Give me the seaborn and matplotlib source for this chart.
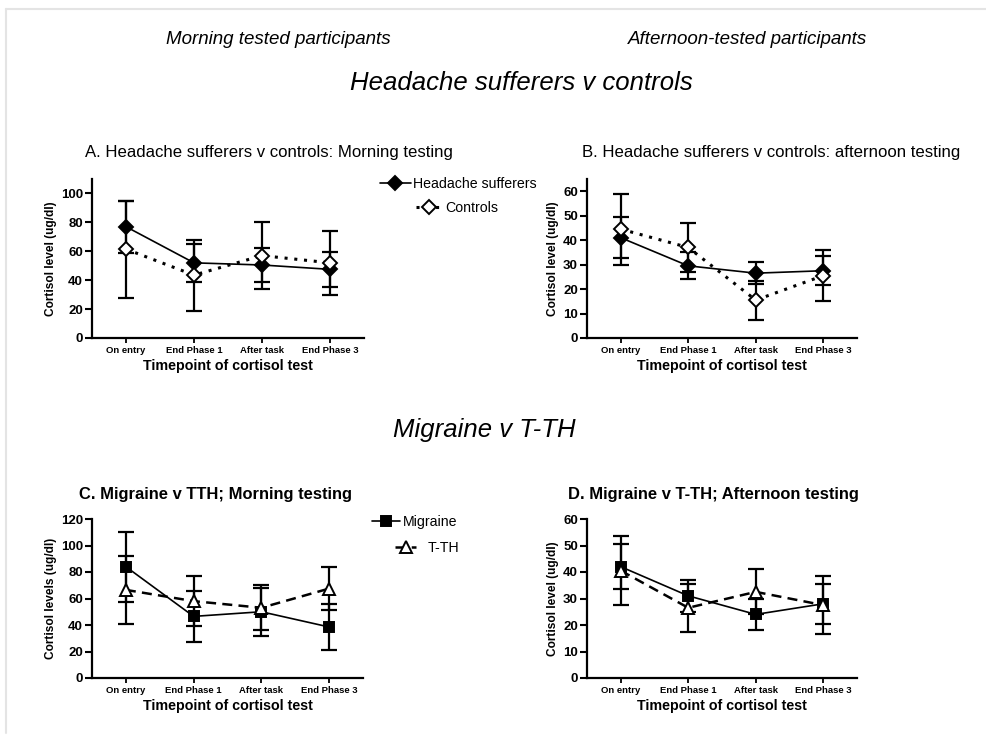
import numpy as np
import pandas as pd
import matplotlib
matplotlib.use("Agg")
import matplotlib.pyplot as plt
import seaborn as sns
from matplotlib.lines import Line2D

# ---------------- data ----------------
timepoints = ["On entry", "End Phase 1", "After task", "End Phase 3"]

a_hs_mean = [77, 52, 50.5, 47.5]
a_hs_err = [18, 13, 12, 12]
a_ctrl_mean = [61.5, 43.5, 57, 52]
a_ctrl_err = [33.5, 24.5, 23, 22]

b_hs_mean = [41, 29.5, 26.5, 27.5]
b_hs_err = [8.3, 5.5, 4.5, 6]
b_ctrl_mean = [44.5, 37, 15.5, 25.5]
b_ctrl_err = [14.5, 10, 8, 10.5]

c_mig_mean = [84, 46.5, 50, 38.5]
c_mig_err = [26.5, 19.5, 18, 17]
c_tth_mean = [66.5, 58, 53, 67.5]
c_tth_err = [25.5, 19, 17, 16.5]

d_mig_mean = [42, 31, 24, 28]
d_mig_err = [8.5, 6, 6, 7.5]
d_tth_mean = [40.5, 26.5, 32.5, 27.5]
d_tth_err = [13, 9, 8.5, 11]

header_left = "Morning tested participants"
header_right = "Afternoon-tested participants"
section_top = "Headache sufferers v controls"
section_bottom = "Migraine v T-TH"
title_a = "A. Headache sufferers v controls: Morning testing"
title_b = "B. Headache sufferers v controls: afternoon testing"
title_c = "C. Migraine v TTH; Morning testing"
title_d = "D. Migraine v T-TH; Afternoon testing"
xlabel = "Timepoint of cortisol test"

# ---------------- style ----------------
sns.set_theme(style="ticks")
plt.rcParams["font.family"] = ["Liberation Sans", "DejaVu Sans"]
plt.rcParams["text.color"] = "black"
plt.rcParams["axes.labelcolor"] = "black"
plt.rcParams["xtick.color"] = "black"
plt.rcParams["ytick.color"] = "black"
plt.rcParams["axes.edgecolor"] = "black"

W, H = 987, 735
fig = plt.figure(figsize=(W / 100, H / 100), dpi=100)
fig.patch.set_facecolor("white")


def fx(px):
    return px / W


def fy(py):
    return 1 - py / H


def make_ax(left, top, right, bottom):
    return fig.add_axes([fx(left), fy(bottom), fx(right) - fx(left), fy(top) - fy(bottom)])


STYLES = {
    "hs": dict(marker="D", markersize=7, markerfacecolor="black", linestyle="-", linewidth=1.2),
    "ctrl": dict(marker="D", markersize=7, markerfacecolor="white", linestyle=(0, (1, 2.2)), linewidth=2.2),
    "mig": dict(marker="s", markersize=7.5, markerfacecolor="black", linestyle="-", linewidth=1.2),
    "tth": dict(marker="^", markersize=8.5, markerfacecolor="white", linestyle=(0, (4, 2.5)), linewidth=1.8),
}


def draw_series(ax, means, errs, key):
    x = np.arange(len(timepoints))
    df = pd.DataFrame({"x": x, "y": means})
    st = STYLES[key]
    ax.errorbar(x, means, yerr=errs, fmt="none", ecolor="black", elinewidth=1.6,
                capsize=5.5, capthick=1.6, zorder=2, clip_on=False)
    sns.lineplot(data=df, x="x", y="y", ax=ax, color="black", marker=st["marker"],
                 markersize=st["markersize"], markerfacecolor=st["markerfacecolor"],
                 markeredgecolor="black", markeredgewidth=1.4, linestyle=st["linestyle"],
                 linewidth=st["linewidth"], zorder=3, clip_on=False, legend=False)


def style_ax(ax, ymax, ystep, ylabel):
    ax.set_xlim(-0.5, len(timepoints) - 0.5)
    ax.set_ylim(0, ymax)
    top_tick = ymax if ymax % ystep == 0 else ymax - (ymax % ystep)
    ax.set_yticks(np.arange(0, top_tick + 0.1, ystep))
    ax.set_xticks(np.arange(len(timepoints)))
    ax.set_xticklabels(timepoints, fontsize=6.8, fontweight="bold", color="black")
    for lab in ax.get_yticklabels():
        lab.set_fontsize(9.5)
        lab.set_fontweight("bold")
        lab.set_color("black")
    ax.set_xlabel(xlabel, fontsize=10.3, fontweight="bold", labelpad=3, color="black")
    ax.set_ylabel(ylabel, fontsize=8.6, fontweight="bold", labelpad=3, color="black")
    for s in ["top", "right"]:
        ax.spines[s].set_visible(False)
    for s in ["left", "bottom"]:
        ax.spines[s].set_linewidth(1.6)
        ax.spines[s].set_color("black")
    ax.tick_params(axis="y", length=5, width=1.5, pad=1.5, colors="black")
    ax.tick_params(axis="x", length=3.5, width=1.3, pad=2, colors="black")
    ax.set_facecolor("white")
    ax.grid(False)


ax_a = make_ax(92, 179, 364, 338)
ax_b = make_ax(587, 179, 857, 338)
ax_c = make_ax(92, 519, 363, 678)
ax_d = make_ax(587, 519, 857, 678)

draw_series(ax_a, a_hs_mean, a_hs_err, "hs")
draw_series(ax_a, a_ctrl_mean, a_ctrl_err, "ctrl")
style_ax(ax_a, 110, 20, "Cortisol level (ug/dl)")

draw_series(ax_b, b_hs_mean, b_hs_err, "hs")
draw_series(ax_b, b_ctrl_mean, b_ctrl_err, "ctrl")
style_ax(ax_b, 65, 10, "Cortisol level (ug/dl)")

draw_series(ax_c, c_mig_mean, c_mig_err, "mig")
draw_series(ax_c, c_tth_mean, c_tth_err, "tth")
style_ax(ax_c, 120, 20, "Cortisol levels (ug/dl)")

draw_series(ax_d, d_mig_mean, d_mig_err, "mig")
draw_series(ax_d, d_tth_mean, d_tth_err, "tth")
style_ax(ax_d, 60, 10, "Cortisol level (ug/dl)")


# ---------------- legends (one entry each, centred like the original) ----------------
def legend_entry(key, label, cx, cy, hlen, pad):
    st = STYLES[key]
    h = Line2D([0], [0], color="black", marker=st["marker"], markersize=st["markersize"],
               markerfacecolor=st["markerfacecolor"], markeredgecolor="black",
               markeredgewidth=1.4, linestyle=st["linestyle"], linewidth=st["linewidth"])
    leg = fig.legend([h], [label], loc="center", bbox_to_anchor=(fx(cx), fy(cy)),
                     frameon=False, fontsize=10.2, handlelength=hlen, handletextpad=pad,
                     borderpad=0, borderaxespad=0, numpoints=1, labelcolor="black")
    return leg


legend_entry("hs", "Headache sufferers", 458, 184, 2.2, 0.15)
legend_entry("ctrl", "Controls", 457, 208, 1.8, 0.25)
legend_entry("mig", "Migraine", 415, 522, 2.0, 0.2)
legend_entry("tth", "T-TH", 427, 548, 1.5, 0.8)

# ---------------- titles and headers ----------------
fig.text(fx(278), fy(40), header_left, ha="center", va="center", fontsize=13.5, style="italic", color="black")
fig.text(fx(748), fy(40), header_right, ha="center", va="center", fontsize=13.5, style="italic", color="black")
fig.text(fx(521), fy(83), section_top, ha="center", va="center", fontsize=18.5, style="italic", color="black")
fig.text(fx(484), fy(430), section_bottom, ha="center", va="center", fontsize=18.5, style="italic", color="black")

fig.text(fx(85), fy(153), title_a, ha="left", va="center", fontsize=12.1, color="black")
fig.text(fx(582), fy(153), title_b, ha="left", va="center", fontsize=12.1, color="black")
fig.text(fx(79), fy(495), title_c, ha="left", va="center", fontsize=11.9, fontweight="bold", color="black")
fig.text(fx(568), fy(495), title_d, ha="left", va="center", fontsize=11.9, fontweight="bold", color="black")

# faint frame like the original slide border
fig.add_artist(Line2D([fx(6), fx(986)], [fy(9), fy(9)], color="#e4e4e4", linewidth=1.5))
fig.add_artist(Line2D([fx(6), fx(6)], [fy(9), fy(733)], color="#e4e4e4", linewidth=1.5))

fig.savefig("out.png", dpi=100, facecolor="white")
